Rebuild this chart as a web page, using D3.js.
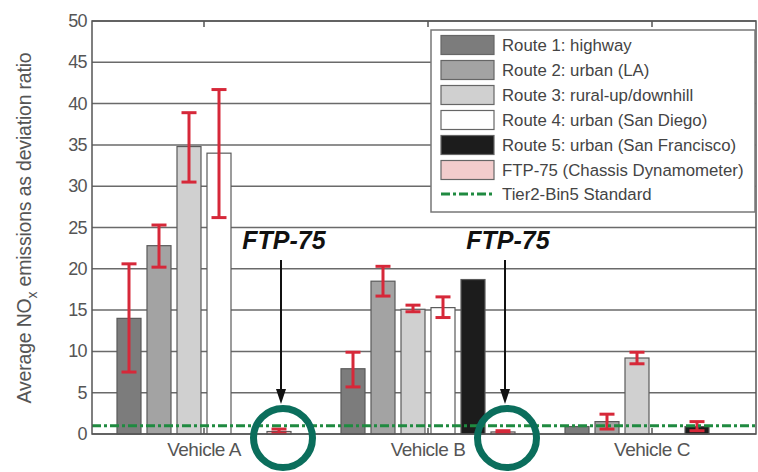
<!DOCTYPE html>
<html><head><meta charset="utf-8">
<script src="https://cdn.jsdelivr.net/npm/d3@7"></script>
<style>body{margin:0;background:#fff}svg{display:block}text{font-family:"Liberation Sans",Arial,sans-serif}</style>
</head><body>
<svg id="c" width="758" height="472"></svg>
<script>
const vehicles = ["Vehicle A", "Vehicle B", "Vehicle C"];
const routes = ["Route 1: highway", "Route 2: urban (LA)", "Route 3: rural-up/downhill",
  "Route 4: urban (San Diego)", "Route 5: urban (San Francisco)", "FTP-75 (Chassis Dynamometer)"];
const standardLabel = "Tier2-Bin5 Standard";
const standardValue = 1;
const valuesA = [14.0, 22.8, 34.8, 34.0, null, 0.3];
const valuesB = [7.9, 18.5, 15.1, 15.3, 18.7, 0.25];
const valuesC = [0.9, 1.5, 9.2, null, 0.9, null];
const errLowA = [7.5, 20.2, 30.5, 26.2, null, 0.1];
const errHighA = [20.6, 25.3, 38.9, 41.7, null, 0.6];
const errLowB = [5.7, 16.7, 14.8, 14.1, null, 0.1];
const errHighB = [9.9, 20.3, 15.6, 16.6, null, 0.4];
const errLowC = [null, 0.6, 8.5, null, 0.4, null];
const errHighC = [null, 2.4, 9.9, null, 1.5, null];
const yTicks = [0, 5, 10, 15, 20, 25, 30, 35, 40, 45, 50];
const annotated = ["Vehicle A", "Vehicle B"];
const annotText = "FTP-75";

const colors = ["#7c7c7c", "#a3a3a3", "#d0d0d0", "#ffffff", "#1c1c1c", "#f2cccc"];
const red = "#d62839", green = "#1f8a40", teal = "#0b6e5c";

const svg = d3.select("#c");
const L = 92, R = 756, T = 21, B = 434;
const x = d3.scaleBand().domain(vehicles).range([L, L + 224 * 3]);
const xr = d3.scaleBand().domain(d3.range(routes.length)).range([-90, 90]).paddingInner(0.2).paddingOuter(0.1);
const y = d3.scaleLinear().domain([0, 50]).range([B, T]);

const vals = [valuesA, valuesB, valuesC], lo = [errLowA, errLowB, errLowC], hi = [errHighA, errHighB, errHighC];
const bars = [];
vehicles.forEach((v, i) => routes.forEach((r, j) => {
  if (vals[i][j] != null) bars.push({v, j, val: vals[i][j], lo: lo[i][j], hi: hi[i][j]});
}));

// gridlines
svg.append("g").selectAll("line").data(yTicks).join("line")
  .attr("x1", L).attr("x2", R).attr("y1", d => y(d)).attr("y2", d => y(d))
  .attr("stroke", "#6a6a6a").attr("stroke-width", 1.5);

// y axis labels
svg.append("g").selectAll("text").data(yTicks).join("text")
  .attr("x", 87).attr("y", d => y(d) + 6).attr("text-anchor", "end")
  .attr("font-size", 18).attr("fill", "#555").attr("letter-spacing", -0.6).text(d => d);

// bars
const bx = d => x(d.v) + x.bandwidth() / 2 + xr(d.j);
svg.append("g").selectAll("rect").data(bars).join("rect")
  .attr("x", bx).attr("width", xr.bandwidth())
  .attr("y", d => y(d.val)).attr("height", d => B - y(d.val))
  .attr("fill", d => colors[d.j]).attr("stroke", "#5a5a5a").attr("stroke-width", 1.2);

// error bars
const eb = svg.append("g").attr("stroke", red).attr("stroke-width", 3);
bars.filter(d => d.lo != null).forEach(d => {
  const cx = bx(d) + xr.bandwidth() / 2;
  eb.append("line").attr("x1", cx).attr("x2", cx).attr("y1", y(d.lo)).attr("y2", y(d.hi));
  [d.lo, d.hi].forEach(v => eb.append("line").attr("x1", cx - 7.5).attr("x2", cx + 7.5).attr("y1", y(v)).attr("y2", y(v)));
});

// standard line
svg.append("line").attr("x1", L).attr("x2", R).attr("y1", y(standardValue)).attr("y2", y(standardValue))
  .attr("stroke", green).attr("stroke-width", 3).attr("stroke-dasharray", "9,3,3,3");

// frame
svg.append("rect").attr("x", L).attr("y", T).attr("width", R - L).attr("height", B - T)
  .attr("fill", "none").attr("stroke", "#555").attr("stroke-width", 1.5);
// x ticks
vehicles.forEach(v => {
  const cx = x(v) + x.bandwidth() / 2;
  svg.append("line").attr("x1", cx).attr("x2", cx).attr("y1", T).attr("y2", T + 6).attr("stroke", "#555").attr("stroke-width", 1.5);
  svg.append("line").attr("x1", cx).attr("x2", cx).attr("y1", B).attr("y2", B - 6).attr("stroke", "#555").attr("stroke-width", 1.5);
  svg.append("text").attr("x", cx).attr("y", 456).attr("text-anchor", "middle")
    .attr("font-size", 19).attr("fill", "#555").attr("letter-spacing", -0.5).text(v);
});

// y label
const yl = svg.append("text").attr("transform", "translate(31,228) rotate(-90)")
  .attr("text-anchor", "middle").attr("font-size", 19.5).attr("fill", "#555").attr("letter-spacing", -0.2);
yl.append("tspan").text("Average NO");
yl.append("tspan").attr("font-size", 14).attr("dy", 6).text("x");
yl.append("tspan").attr("dy", -6).text(" emissions as deviation ratio");

// annotations
annotated.forEach(v => {
  const cx = x(v) + x.bandwidth() / 2 + xr(5) + xr.bandwidth() / 2 + 2;
  svg.append("text").attr("x", cx + 3).attr("y", 249).attr("text-anchor", "middle")
    .attr("font-size", 25).attr("font-weight", "bold").attr("font-style", "italic").attr("fill", "#111").text(annotText);
  svg.append("line").attr("x1", cx).attr("x2", cx).attr("y1", 260).attr("y2", 392).attr("stroke", "#111").attr("stroke-width", 2);
  svg.append("path").attr("d", `M${cx - 5},389 L${cx + 5},389 L${cx},404 Z`).attr("fill", "#111");
  svg.append("circle").attr("cx", cx + 2).attr("cy", 438).attr("r", 29.5)
    .attr("fill", "none").attr("stroke", teal).attr("stroke-width", 7);
});

// legend
const lg = svg.append("g");
lg.append("rect").attr("x", 431).attr("y", 30).attr("width", 324).attr("height", 182)
  .attr("fill", "#fff").attr("stroke", "#777").attr("stroke-width", 1.5);
routes.forEach((r, j) => {
  const cy = 45 + j * 25;
  lg.append("rect").attr("x", 441).attr("y", cy - 9.5).attr("width", 53).attr("height", 19)
    .attr("fill", colors[j]).attr("stroke", "#666").attr("stroke-width", 1.2);
  lg.append("text").attr("x", 502).attr("y", cy + 6).attr("font-size", 16.8).attr("fill", "#444").text(r);
});
lg.append("line").attr("x1", 441).attr("x2", 494).attr("y1", 194).attr("y2", 194)
  .attr("stroke", green).attr("stroke-width", 3).attr("stroke-dasharray", "9,3,3,3");
lg.append("text").attr("x", 502).attr("y", 200).attr("font-size", 16.8).attr("fill", "#444").text(standardLabel);
</script>
</body></html>
